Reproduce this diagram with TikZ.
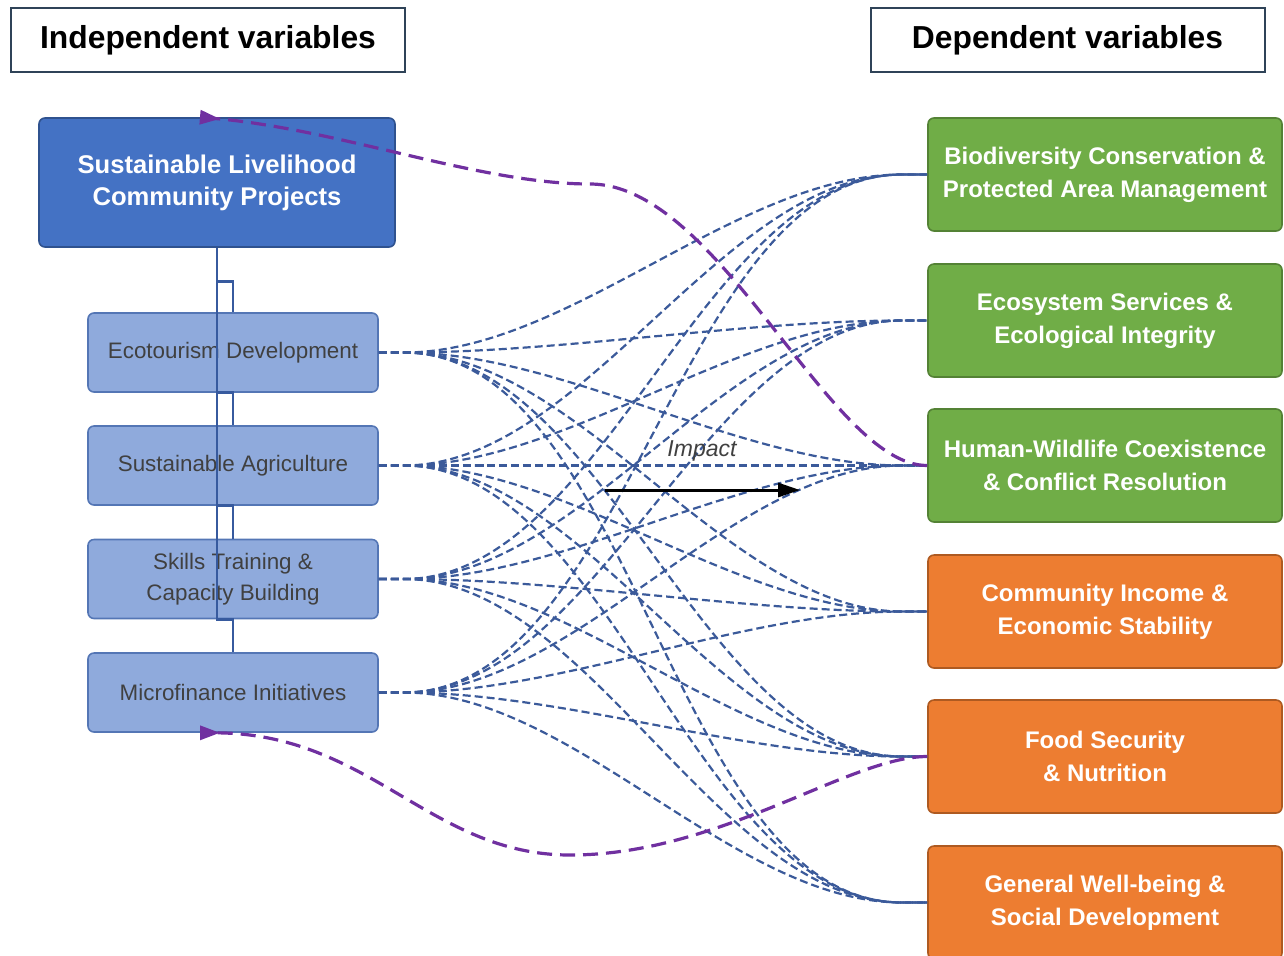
\documentclass[tikz,border=0pt]{standalone}
\usepackage{fontspec}
\setmainfont{Liberation Sans}
\usetikzlibrary{arrows.meta,calc}
\definecolor{headline}{HTML}{2F4358}
\definecolor{mainfill}{HTML}{4472C4}
\definecolor{mainline}{HTML}{2F528F}
\definecolor{subfill}{HTML}{8FAADC}
\definecolor{subline}{HTML}{5476B5}
\definecolor{subtext}{HTML}{404040}
\definecolor{treeline}{HTML}{375A9E}
\definecolor{linkblue}{HTML}{3B5A9A}
\definecolor{greenfill}{HTML}{70AD47}
\definecolor{greenline}{HTML}{548235}
\definecolor{orangefill}{HTML}{ED7D31}
\definecolor{orangeline}{HTML}{AE5A21}
\definecolor{fbpurple}{HTML}{7030A0}
\begin{document}
\begin{tikzpicture}[x=0.5pt,y=-0.5pt,
	headbox/.style={draw=headline,line width=1pt,minimum width=197pt,minimum height=32pt,font=\fontsize{15.9}{19}\selectfont\bfseries},
	mainbox/.style={draw=mainline,fill=mainfill,line width=0.8pt,rounded corners=3pt,minimum width=178pt,minimum height=64.5pt,align=center,text=white,font=\fontsize{12.8}{16}\selectfont\bfseries},
	subbox/.style={draw=subline,fill=subfill,line width=0.8pt,rounded corners=3pt,minimum width=145pt,minimum height=39.5pt,align=center,text=subtext,font=\fontsize{11.2}{15.5}\selectfont},
	outbox/.style={line width=0.8pt,rounded corners=3pt,minimum width=177pt,minimum height=56.5pt,align=center,text=white,font=\fontsize{12}{16.5}\selectfont\bfseries},
	ecobox/.style={outbox,draw=greenline,fill=greenfill},
	socbox/.style={outbox,draw=orangeline,fill=orangefill},
	link/.style={draw=linkblue,line width=1.1pt,dash pattern=on 4pt off 2pt},
	feedback/.style={draw=fbpurple,line width=1.6pt,dash pattern=on 7.5pt off 4pt,-{Triangle[reversed,length=10pt,width=7pt]}},
	tree/.style={draw=treeline,line width=1.4pt}]
	\useasboundingbox (0,0) rectangle (1284,955);
	
	\node[headbox] (indep) at (208,40) {Independent variables};
	\node[headbox] (dep) at (1067.5,40) {Dependent variables};
	
	\node[mainbox] (main) at (217,182.5) {Sustainable Livelihood\\Community Projects};
	\node[subbox] (eco) at (233,352.5) {Ecotourism Development};
	\node[subbox] (agri) at (233,465.5) {Sustainable Agriculture};
	\node[subbox] (skills) at (233,579) {Skills Training \&\\Capacity Building};
	\node[subbox] (micro) at (233,692.5) {Microfinance Initiatives};
	
	\node[ecobox] (bio) at (1105,174.5) {Biodiversity Conservation \&\\Protected Area Management};
	\node[ecobox] (ess) at (1105,320.5) {Ecosystem Services \&\\Ecological Integrity};
	\node[ecobox] (hwc) at (1105,465.5) {Human-Wildlife Coexistence\\\& Conflict Resolution};
	\node[socbox] (inc) at (1105,611.5) {Community Income \&\\Economic Stability};
	\node[socbox] (food) at (1105,756.5) {Food Security\\\& Nutrition};
	\node[socbox] (gen) at (1105,902.5) {General Well-being \&\\Social Development};
	
	\draw[tree] (main.south) -- ++(0,34) -| (eco.north);
	\draw[tree] (main.south) |- (eco.south) -- (agri.north);
	\draw[tree] (main.south) |- (agri.south) -- (skills.north);
	\draw[tree] (main.south) |- (skills.south) -- (micro.north);
	
	\foreach \src in {eco,agri,skills,micro}
		\foreach \dst in {bio,ess,hwc,inc,food,gen}
			\draw[link] (\src.east) -- ++(25,0) to[out=0,in=180,looseness=0.8] ($(\dst.west)+(-25,0)$) -- (\dst.west);
	
	\coordinate (topbend) at (590,184);
	\coordinate (lowbend) at (570,855);
	\coordinate (toptip) at ($(main.north)+(-17,0)$);
	\coordinate (lowtip) at ($(micro.south -| main.north)+(-17,0)$);
	\draw[feedback] (hwc.west) .. controls +(-98,0) and +(130,0) .. (topbend) .. controls +(-110,0) and +(140,12) .. (toptip);
	\draw[feedback] (food.west) .. controls +(-78,0) and +(150,0) .. (lowbend) .. controls +(-140,0) and +(170,0) .. (lowtip);
	
	\coordinate (impfrom) at (605,490);
	\coordinate (impto) at (800,490);
	\draw[line width=1.5pt,-{Triangle[length=11pt,width=7pt]}] (impfrom) -- (impto);
	\node[font=\fontsize{11.5}{14}\selectfont\itshape,text=subtext] (implbl) at (702,451) {Impact};
	
\end{tikzpicture}
\end{document}
